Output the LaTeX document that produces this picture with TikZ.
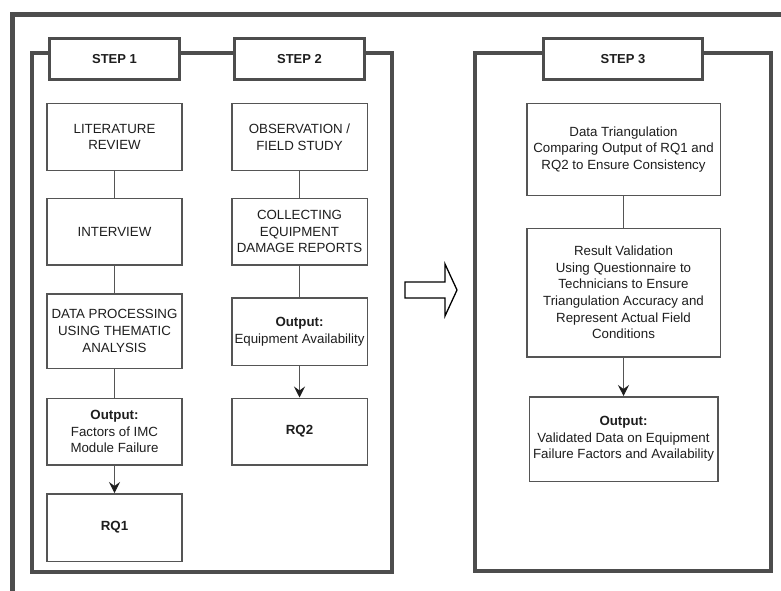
\documentclass[tikz,border=0pt]{standalone}
\usepackage{fontspec}
\setmainfont{Liberation Sans}
\usetikzlibrary{positioning,arrows.meta}
\definecolor{framegray}{HTML}{4D4D4D}
\definecolor{boxgray}{HTML}{555555}
\definecolor{ink}{HTML}{1E1E1E}

\tikzset{
  frameline/.style={draw=framegray, line width=4pt},
  stepbox/.style={draw=framegray, line width=3.5pt, fill=white, text=ink,
    minimum width=130pt, minimum height=41pt, font=\bfseries\fontsize{13}{16}\selectfont},
  taskbox/.style={draw=boxgray, line width=1.5pt, fill=white, text=ink, align=center,
    inner sep=2pt, font=\fontsize{13.3}{16.6}\selectfont},
  link/.style={draw=boxgray, line width=1pt},
  flow/.style={link, -{Stealth[length=11pt,width=11pt,inset=4pt,color=ink]}},
}

\begin{document}
\begin{tikzpicture}[x=1pt, y=-1pt]
  \useasboundingbox (0,0) rectangle (781,591);

  % Frames
  \draw[frameline, line width=5pt] (790,15) -- (12.5,15) -- (12.5,600);
  \draw[frameline] (32,53) rectangle (392,572);
  \draw[frameline] (475,53) rectangle (771,571);

  % Step headers
  \node[stepbox] (S1) at (114.5,59) {STEP 1};
  \node[stepbox] (S2) at (299.5,59) {STEP 2};
  \node[stepbox, minimum width=159pt] (S3) at (623,59) {STEP 3};

  % Define nodes: step 1
  \node[taskbox, minimum width=135pt, minimum height=66.5pt] (lit) at (114.5,137) {LITERATURE\\REVIEW};
  \node[taskbox, minimum width=135pt, minimum height=66.5pt, below=26.5pt of lit] (int) {INTERVIEW};
  \node[taskbox, minimum width=135pt, minimum height=74.5pt, below=27.5pt of int] (thm) {DATA PROCESSING\\USING THEMATIC\\ANALYSIS};
  \node[taskbox, minimum width=135pt, minimum height=66.5pt, below=28.5pt of thm] (out1) {\textbf{Output:}\\Factors of IMC\\Module Failure};
  \node[taskbox, minimum width=135pt, minimum height=67.5pt, below=27.5pt of out1] (rq1) {\textbf{RQ1}};

  % Define nodes: step 2
  \node[taskbox, minimum width=135.5pt, minimum height=66.5pt] (obs) at (299.5,137) {OBSERVATION /\\FIELD STUDY};
  \node[taskbox, minimum width=135.5pt, minimum height=66.5pt, below=26.5pt of obs] (dmg) {COLLECTING\\EQUIPMENT\\DAMAGE REPORTS};
  \node[taskbox, minimum width=135.5pt, minimum height=67.5pt, below=31.5pt of dmg] (out2) {\textbf{Output:}\\Equipment Availability};
  \node[taskbox, minimum width=135.5pt, minimum height=66.5pt, below=31.5pt of out2] (rq2) {\textbf{RQ2}};

  % Define nodes: step 3
  \node[taskbox, minimum width=193.5pt, minimum height=91.5pt] (tri) at (623.5,149.5) {Data Triangulation\\Comparing Output of RQ1 and\\RQ2 to Ensure Consistency};
  \node[taskbox, minimum width=193.5pt, minimum height=128.5pt, below=31.5pt of tri] (val) {Result Validation\\Using Questionnaire to\\Technicians to Ensure\\Triangulation Accuracy and\\Represent Actual Field\\Conditions};
  \node[taskbox, minimum width=188.5pt, minimum height=84.5pt, below=38.5pt of val] (out3) {\textbf{Output:}\\Validated Data on Equipment\\Failure Factors and Availability};

  % Connect the nodes
  \draw[link] (lit) -- (int);
  \draw[link] (int) -- (thm);
  \draw[link] (thm) -- (out1);
  \draw[flow] (out1) -- (rq1);
  \draw[link] (obs) -- (dmg);
  \draw[link] (dmg) -- (out2);
  \draw[flow] (out2) -- (rq2);
  \draw[link] (tri) -- (val);
  \draw[flow] (val) -- (out3);

  % Hollow arrow between the groups
  \draw[line width=1.3pt, fill=white, line join=miter]
    (405,282) -- (445,282) -- (445,264) -- (457,290) -- (445,316) -- (445,298) -- (405,298) -- cycle;

\end{tikzpicture}
\end{document}
